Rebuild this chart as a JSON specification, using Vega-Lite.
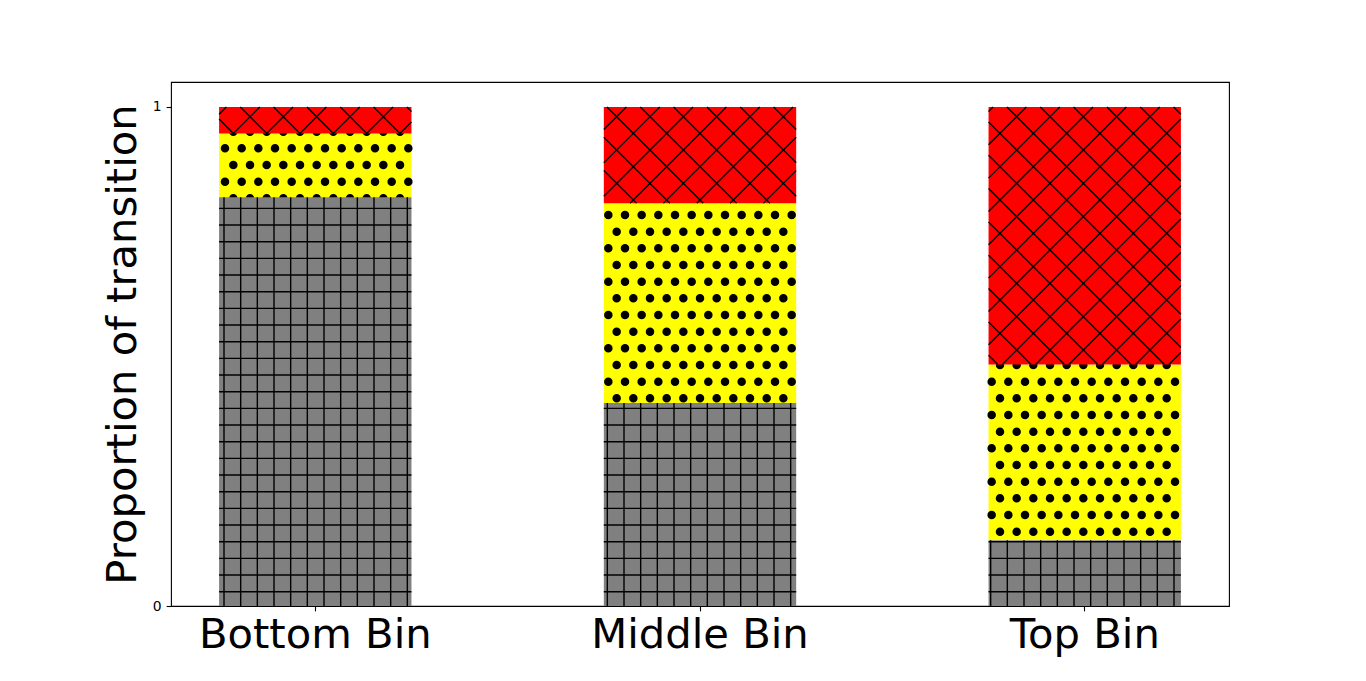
{
  "$schema": "https://vega.github.io/schema/vega-lite/v6.json",
  "width": 1058,
  "height": 524,
  "autosize": {"type": "none"},
  "padding": {"left": 171, "top": 82, "right": 137, "bottom": 75},
  "background": "white",
  "config": {
    "font": "DejaVu Sans",
    "view": {"stroke": "black", "strokeWidth": 1.1},
    "axis": {"labelFont": "DejaVu Sans", "titleFont": "DejaVu Sans"}
  },
  "data": {
    "values": [
      {"bin": "Bottom Bin", "type": "grey", "start": 0, "end": 0.819},
      {"bin": "Bottom Bin", "type": "yellow", "start": 0.819, "end": 0.947},
      {"bin": "Bottom Bin", "type": "red", "start": 0.947, "end": 1},
      {"bin": "Middle Bin", "type": "grey", "start": 0, "end": 0.407},
      {"bin": "Middle Bin", "type": "yellow", "start": 0.407, "end": 0.807},
      {"bin": "Middle Bin", "type": "red", "start": 0.807, "end": 1},
      {"bin": "Top Bin", "type": "grey", "start": 0, "end": 0.132},
      {"bin": "Top Bin", "type": "yellow", "start": 0.132, "end": 0.484},
      {"bin": "Top Bin", "type": "red", "start": 0.484, "end": 1}
    ]
  },
  "resolve": {"scale": {"shape": "independent"}},
  "encoding": {
    "x": {
      "field": "bin",
      "type": "nominal",
      "sort": ["Bottom Bin", "Middle Bin", "Top Bin"],
      "scale": {"paddingInner": 0.5, "paddingOuter": 0.125},
      "axis": {
        "title": null,
        "labelAngle": 0,
        "labelFontSize": 41.7,
        "labelColor": "black",
        "labelLimit": 600,
        "labelPadding": 4,
        "tickColor": "black",
        "tickSize": 4.9,
        "tickWidth": 1.1,
        "domain": false,
        "grid": false
      }
    },
    "y": {
      "field": "end",
      "type": "quantitative",
      "scale": {"domain": [0, 1.05], "nice": false, "zero": false},
      "axis": {
        "title": "Proportion of transition",
        "titleFontSize": 41.7,
        "titleFontWeight": "normal",
        "titleColor": "black",
        "titlePadding": 8,
        "values": [0, 1],
        "format": "d",
        "labelFontSize": 13.9,
        "labelColor": "black",
        "labelPadding": 5,
        "tickColor": "black",
        "tickSize": 4.9,
        "tickWidth": 1.1,
        "domain": false,
        "grid": false
      }
    }
  },
  "layer": [
    {
      "transform": [{"filter": "datum.type === 'yellow'"}],
      "mark": {"type": "bar", "stroke": null},
      "encoding": {
        "y2": {"field": "start"},
        "color": {
          "field": "type",
          "type": "nominal",
          "scale": {"domain": ["grey", "yellow", "red"], "range": ["#808080", "#ffff00", "#ff0000"]},
          "legend": null
        }
      }
    },
    {
      "transform": [{"filter": "datum.type === 'yellow'"}],
      "mark": {
        "type": "point",
        "filled": false,
        "stroke": "black",
        "strokeWidth": 8.5,
        "strokeDash": [0.01, 16.657],
        "strokeCap": "round",
        "size": 4,
        "opacity": 1
      },
      "encoding": {
        "shape": {
          "field": "bin",
          "type": "nominal",
          "scale": {
            "domain": ["Bottom Bin", "Middle Bin", "Top Bin"],
            "range": [
              "M-81.94,-1.77h167.1M-90.27,14.9h183.8M-81.94,31.57h167.1M-90.27,48.23h183.8M-81.94,64.9h167.1",
              "M-91.67,11.7h183.8M-83.33,28.37h167.1M-91.67,45.03h183.8M-83.33,61.7h167.1M-91.67,78.37h183.8M-83.33,95.03h167.1M-91.67,111.7h183.8M-83.33,128.37h167.1M-91.67,145.03h183.8M-83.33,161.7h167.1M-91.67,178.37h183.8M-83.33,195.03h167.1",
              "M-84.73,0.51h167.1M-93.06,17.18h183.8M-84.73,33.84h167.1M-93.06,50.51h183.8M-84.73,67.18h167.1M-93.06,83.84h183.8M-84.73,100.51h167.1M-93.06,117.18h183.8M-84.73,133.84h167.1M-93.06,150.51h183.8M-84.73,167.18h167.1"
            ]
          },
          "legend": null
        }
      }
    },
    {
      "transform": [{"filter": "datum.type !== 'yellow'"}],
      "mark": {"type": "bar", "stroke": null},
      "encoding": {
        "y2": {"field": "start"},
        "color": {
          "field": "type",
          "type": "nominal",
          "scale": {"domain": ["grey", "yellow", "red"], "range": ["#808080", "#ffff00", "#ff0000"]},
          "legend": null
        }
      }
    },
    {
      "transform": [{"filter": "datum.type === 'red'"}],
      "mark": {
        "type": "point",
        "filled": false,
        "stroke": "black",
        "strokeWidth": 1.4,
        "size": 4,
        "opacity": 1
      },
      "encoding": {
        "shape": {
          "field": "bin",
          "type": "nominal",
          "scale": {
            "domain": ["Bottom Bin", "Middle Bin", "Top Bin"],
            "range": [
              "M-96.18,7.29L-88.89,0M-82.01,26.45L-55.56,0M-48.67,26.45L-22.22,0M-15.34,26.45L11.11,0M17.99,26.45L44.44,0M51.33,26.45L77.78,0M84.66,26.45L96.18,14.93M-96.18,12.14L-81.87,26.45M-74.99,0L-48.54,26.45M-41.66,0L-15.21,26.45M-8.32,0L18.13,26.45M25.01,0L51.46,26.45M58.34,0L84.79,26.45M91.67,0L96.18,4.51",
              "M-96.18,22.56L-73.62,0M-96.18,55.89L-40.29,0M-96.18,89.23L-6.95,0M-69.94,96.32L26.38,0M-36.61,96.32L59.71,0M-3.27,96.32L93.05,0M30.06,96.32L96.18,30.2M63.39,96.32L96.18,63.53M-96.18,63.53L-63.39,96.32M-96.18,30.2L-30.06,96.32M-93.05,0L3.27,96.32M-59.71,0L36.61,96.32M-26.38,0L69.94,96.32M6.95,0L96.18,89.23M40.28,0L96.18,55.9M73.61,0L96.18,22.57",
              "M-96.18,4.5L-91.68,0M-96.18,37.83L-58.35,0M-96.18,71.17L-25.01,0M-96.18,104.5L8.32,0M-96.18,137.83L41.65,0M-96.18,171.17L74.99,0M-96.18,204.5L96.18,12.14M-96.18,237.83L96.18,45.47M-82.52,257.51L96.18,78.81M-49.19,257.51L96.18,112.14M-15.86,257.51L96.18,145.47M17.48,257.51L96.18,178.81M50.81,257.51L96.18,212.14M84.14,257.51L96.18,245.47M-96.18,248.26L-86.93,257.51M-96.18,214.93L-53.6,257.51M-96.18,181.6L-20.27,257.51M-96.18,148.26L13.07,257.51M-96.18,114.93L46.4,257.51M-96.18,81.6L79.73,257.51M-96.18,48.26L96.18,240.62M-96.18,14.93L96.18,207.29M-77.78,0L96.18,173.96M-44.44,0L96.18,140.62M-11.11,0L96.18,107.29M22.22,0L96.18,73.96M55.55,0L96.18,40.63M88.88,0L96.18,7.3"
            ]
          },
          "legend": null
        }
      }
    },
    {
      "transform": [{"filter": "datum.type === 'grey'"}],
      "mark": {
        "type": "point",
        "filled": false,
        "stroke": "black",
        "strokeWidth": 1.4,
        "size": 4,
        "opacity": 1
      },
      "encoding": {
        "shape": {
          "field": "bin",
          "type": "nominal",
          "scale": {
            "domain": ["Bottom Bin", "Middle Bin", "Top Bin"],
            "range": [
              "M-91.27,0v408.72M-74.6,0v408.72M-57.94,0v408.72M-41.27,0v408.72M-24.6,0v408.72M-7.94,0v408.72M8.73,0v408.72M25.4,0v408.72M42.06,0v408.72M58.73,0v408.72M75.4,0v408.72M92.06,0v408.72M-96.18,11.09h192.36M-96.18,27.76h192.36M-96.18,44.42h192.36M-96.18,61.09h192.36M-96.18,77.76h192.36M-96.18,94.42h192.36M-96.18,111.09h192.36M-96.18,127.76h192.36M-96.18,144.42h192.36M-96.18,161.09h192.36M-96.18,177.76h192.36M-96.18,194.42h192.36M-96.18,211.09h192.36M-96.18,227.76h192.36M-96.18,244.42h192.36M-96.18,261.09h192.36M-96.18,277.76h192.36M-96.18,294.42h192.36M-96.18,311.09h192.36M-96.18,327.76h192.36M-96.18,344.42h192.36M-96.18,361.09h192.36M-96.18,377.76h192.36M-96.18,394.42h192.36",
              "M-92.67,0v203.11M-76,0v203.11M-59.33,0v203.11M-42.67,0v203.11M-26,0v203.11M-9.33,0v203.11M7.33,0v203.11M24,0v203.11M40.67,0v203.11M57.33,0v203.11M74,0v203.11M90.67,0v203.11M-96.18,5.48h192.36M-96.18,22.15h192.36M-96.18,38.81h192.36M-96.18,55.48h192.36M-96.18,72.15h192.36M-96.18,88.81h192.36M-96.18,105.48h192.36M-96.18,122.15h192.36M-96.18,138.81h192.36M-96.18,155.48h192.36M-96.18,172.15h192.36M-96.18,188.81h192.36",
              "M-94.06,0v65.87M-77.4,0v65.87M-60.73,0v65.87M-44.06,0v65.87M-27.4,0v65.87M-10.73,0v65.87M5.94,0v65.87M22.6,0v65.87M39.27,0v65.87M55.94,0v65.87M72.6,0v65.87M89.27,0v65.87M-96.18,1.57h192.36M-96.18,18.24h192.36M-96.18,34.91h192.36M-96.18,51.57h192.36"
            ]
          },
          "legend": null
        }
      }
    }
  ]
}
